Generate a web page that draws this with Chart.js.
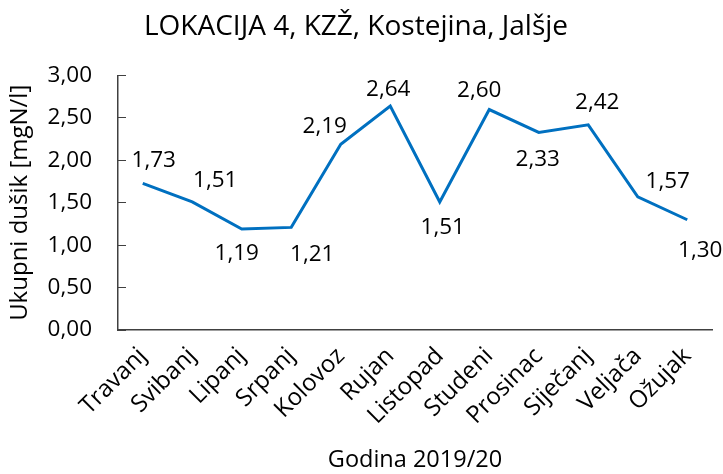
<!DOCTYPE html>
<html>
<head>
<meta charset="utf-8">
<script src="https://cdn.jsdelivr.net/npm/chart.js@4/dist/chart.umd.min.js"></script>
<style>
html,body{margin:0;padding:0;background:#fff;}
#wrap{width:723px;height:474px;}
</style>
</head>
<body>
<div id="wrap"><canvas id="c" width="723" height="474"></canvas></div>
<script>
const chartTitle = 'LOKACIJA 4, KZŽ, Kostejina, Jalšje';
const xTitle = 'Godina 2019/20';
const yTitle = 'Ukupni dušik [mgN/l]';
const categories = ['Travanj','Svibanj','Lipanj','Srpanj','Kolovoz','Rujan','Listopad','Studeni','Prosinac','Siječanj','Veljača','Ožujak'];
const values = [1.73, 1.51, 1.19, 1.21, 2.19, 2.64, 1.51, 2.60, 2.33, 2.42, 1.57, 1.30];
const yTickValues = [0, 0.5, 1, 1.5, 2, 2.5, 3];

// label offsets relative to each point (styling)
const labelOffsets = [[11,-23],[23,-21],[-5,25],[21,27],[-16,-18],[-2,-17],[3,26],[-10,-19],[-1,27],[9,-22],[30,-15],[13,31]];

const FONT = '"Open Sans"';
const fmt = v => v.toFixed(2).replace('.', ',');

const dataLabels = {
  id: 'dataLabels',
  afterDatasetsDraw(chart) {
    const ctx = chart.ctx;
    const meta = chart.getDatasetMeta(0);
    ctx.save();
    ctx.font = '22.5px ' + FONT;
    ctx.fillStyle = '#000';
    ctx.textAlign = 'center';
    ctx.textBaseline = 'middle';
    meta.data.forEach((pt, i) => {
      const o = labelOffsets[i];
      ctx.fillText(fmt(values[i]), pt.x + o[0], pt.y + o[1]);
    });
    ctx.restore();
  }
};

new Chart(document.getElementById('c'), {
  type: 'line',
  data: {
    labels: categories,
    datasets: [{
      data: values,
      borderColor: '#0070C0',
      borderWidth: 3,
      pointRadius: 0,
      tension: 0,
      fill: false
    }]
  },
  options: {
    responsive: false,
    animation: false,
    events: [],
    layout: { padding: { left: 0, right: 11, top: 0, bottom: 0 } },
    plugins: {
      legend: { display: false },
      tooltip: { enabled: false },
      title: {
        display: true,
        text: chartTitle,
        color: '#000',
        font: { family: FONT, size: 28, weight: 'normal' },
        padding: { top: 10, bottom: 32 }
      }
    },
    scales: {
      y: {
        min: 0, max: 3,
        afterBuildTicks: s => { s.ticks = yTickValues.map(v => ({ value: v })); },
        afterFit: s => { s.width = 118; },
        ticks: {
          callback: v => fmt(v),
          color: '#000',
          font: { family: FONT, size: 22.5 },
          padding: 34
        },
        grid: { drawOnChartArea: false, drawTicks: true, tickLength: -8, color: '#404040', lineWidth: 1 },
        border: { display: true, color: '#404040', width: 1.5 },
        title: {
          display: true,
          text: yTitle,
          color: '#000',
          font: { family: FONT, size: 24 },
          padding: { top: 6, bottom: 0 }
        }
      },
      x: {
        offset: true,
        afterFit: s => { s.height = 144; },
        ticks: {
          color: '#000',
          font: { family: FONT, size: 24 },
          maxRotation: 45, minRotation: 45,
          autoSkip: false,
          padding: 12
        },
        grid: { display: false, drawTicks: false },
        border: { display: true, color: '#404040', width: 1.5 },
        title: {
          display: true,
          text: xTitle,
          color: '#000',
          font: { family: FONT, size: 23.5 },
          padding: { top: 0, bottom: 0 }
        }
      }
    }
  },
  plugins: [dataLabels]
});
</script>
</body>
</html>
